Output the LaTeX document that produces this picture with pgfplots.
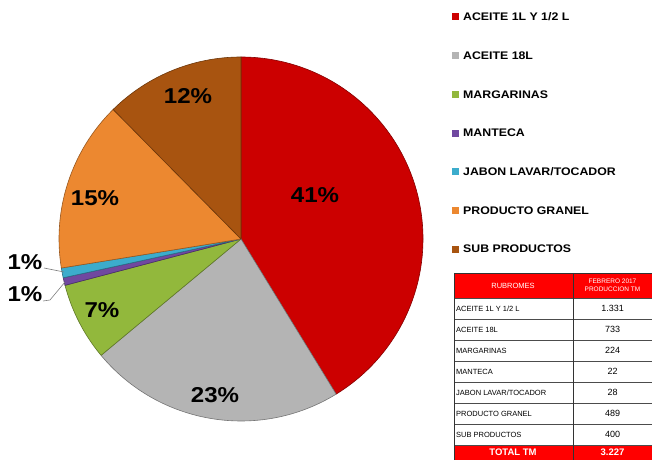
\documentclass[border=0pt]{standalone}
\usepackage{pgfplots}
\usepackage{pgfplotstable}
\pgfplotsset{compat=1.18}
\usepackage{fontspec}
\setmainfont{Liberation Sans}
\newfontfamily\widefont[FakeStretch=1.12]{Liberation Sans}

\definecolor{cRed}{RGB}{204,0,0}
\definecolor{cGrey}{RGB}{180,180,180}
\definecolor{cGreen}{RGB}{146,184,60}
\definecolor{cPurple}{RGB}{112,72,160}
\definecolor{cCyan}{RGB}{60,172,204}
\definecolor{cOrange}{RGB}{236,136,48}
\definecolor{cBrown}{RGB}{168,84,16}
\definecolor{tRed}{RGB}{255,0,0}

\pgfplotstableread[col sep=comma]{
name,value,color,lx,ly
ACEITE 1L Y 1/2 L,1331,cRed,315,265
ACEITE 18L,733,cGrey,215,65
MARGARINAS,224,cGreen,102,150
MANTECA,22,cPurple,25,166
JABON LAVAR/TOCADOR,28,cCyan,25,198
PRODUCTO GRANEL,489,cOrange,95,262
SUB PRODUCTOS,400,cBrown,188,364
}\piedata

\begin{document}
\begin{tikzpicture}
\begin{axis}[
  width=652pt, height=460pt, scale only axis,
  xmin=0, xmax=652, ymin=0, ymax=460,
  hide axis, clip=false,
  /pgf/number format/set thousands separator={.},
  /pgf/number format/assume math mode=true,
]
\def\cx{241}\def\cy{221}\def\rr{182}
\def\total{0}
\pgfplotsforeachungrouped \i in {0,...,6}{%
  \pgfplotstablegetelem{\i}{value}\of\piedata \let\pv\pgfplotsretval
  \pgfmathsetmacro\total{\total+\pv}%
}
\def\cum{0}
% pie slices
\pgfplotsforeachungrouped \i in {0,...,6}{%
  \pgfplotstablegetelem{\i}{value}\of\piedata \let\pv\pgfplotsretval
  \pgfplotstablegetelem{\i}{color}\of\piedata \let\pc\pgfplotsretval
  \pgfplotstablegetelem{\i}{lx}\of\piedata \let\plx\pgfplotsretval
  \pgfplotstablegetelem{\i}{ly}\of\piedata \let\ply\pgfplotsretval
  \pgfmathsetmacro\angA{90-360*(\cum/\total)}%
  \pgfmathsetmacro\angB{90-360*((\cum+\pv)/\total)}%
  \pgfmathsetmacro\sx{\cx+\rr*cos(\angA)}%
  \pgfmathsetmacro\sy{\cy+\rr*sin(\angA)}%
  \pgfmathtruncatemacro\pct{round(100*(\pv/\total))}%
  \edef\temp{\noexpand\filldraw[fill=\pc, draw=\pc!65!black, line width=0.6pt, line join=round] (axis cs:\cx,\cy) -- (axis cs:\sx,\sy) arc[start angle=\angA, end angle=\angB, radius=\rr pt] -- cycle;}%
  \temp
  \edef\temp{\noexpand\node[font=\noexpand\widefont\noexpand\bfseries\noexpand\fontsize{21.5}{24}\noexpand\selectfont, text=black] at (axis cs:\plx,\ply) {\pct\noexpand\%};}%
  \temp
  \pgfmathsetmacro\cum{\cum+\pv}%
}
% leader lines
\draw[gray, line width=0.6pt] (axis cs:44,192) -- (axis cs:64,188);
\draw[gray, line width=0.6pt] (axis cs:43,159) -- (axis cs:50,160) -- (axis cs:65,178);
% legend
\pgfplotsforeachungrouped \i in {0,...,6}{%
  \pgfplotstablegetelem{\i}{name}\of\piedata \let\pn\pgfplotsretval
  \pgfplotstablegetelem{\i}{color}\of\piedata \let\pc\pgfplotsretval
  \pgfmathsetmacro\ly{443-38.7*\i}%
  \pgfmathsetmacro\lyA{\ly-3.5}\pgfmathsetmacro\lyB{\ly+3.5}%
  \edef\temp{\noexpand\fill[\pc] (axis cs:452,\lyA) rectangle (axis cs:459,\lyB);
    \noexpand\node[anchor=west, inner sep=0pt, font=\noexpand\widefont\noexpand\bfseries\noexpand\fontsize{11}{12}\noexpand\selectfont] at (axis cs:463,\ly) {\pn};}%
  \temp
}
% table
\fill[tRed] (axis cs:454,187) rectangle (axis cs:652,162);
\fill[tRed] (axis cs:454,15) rectangle (axis cs:652,0);
\node[text=white, font=\fontsize{7.5}{8}\selectfont] at (axis cs:513,174.5) {RUBROMES};
\node[text=white, align=center, font=\fontsize{6.5}{8}\selectfont, inner sep=0pt] at (axis cs:612.5,174.5) {FEBRERO 2017\\PRODUCCION TM};
\pgfplotsforeachungrouped \i in {0,...,6}{%
  \pgfplotstablegetelem{\i}{name}\of\piedata \let\pn\pgfplotsretval
  \pgfplotstablegetelem{\i}{value}\of\piedata \let\pv\pgfplotsretval
  \pgfmathsetmacro\ry{162-21*\i-10.5}%
  \pgfmathsetmacro\rl{162-21*\i-21}%
  \edef\temp{\noexpand\node[anchor=west, inner sep=0pt, font=\noexpand\fontsize{7.5}{8}\noexpand\selectfont] at (axis cs:456,\ry) {\pn};
    \noexpand\node[font=\noexpand\fontsize{9}{10}\noexpand\selectfont] at (axis cs:612.5,\ry) {\noexpand\pgfmathprintnumber{\pv}};
    \noexpand\draw[gray!60!black, line width=0.5pt] (axis cs:454,\rl) -- (axis cs:652,\rl);}%
  \temp
}
\draw[gray!60!black, line width=0.5pt] (axis cs:454,162) -- (axis cs:652,162);
\draw[gray!40!black, line width=0.6pt] (axis cs:454,187) -- (axis cs:454,0);
\draw[gray!40!black, line width=0.6pt] (axis cs:573,187) -- (axis cs:573,0);
\draw[gray!40!black, line width=0.6pt] (axis cs:454,187) -- (axis cs:652,187);
\node[text=white, font=\bfseries\fontsize{9.5}{10}\selectfont] at (axis cs:513,7.5) {TOTAL TM};
\edef\temp{\noexpand\node[text=white, font=\noexpand\bfseries\noexpand\fontsize{9.5}{10}\noexpand\selectfont] at (axis cs:612.5,7.5) {\noexpand\pgfmathprintnumber{\total}};}
\temp
\end{axis}
\pgfresetboundingbox
\path (0,0) rectangle (652pt,460pt);
\end{tikzpicture}
\end{document}
